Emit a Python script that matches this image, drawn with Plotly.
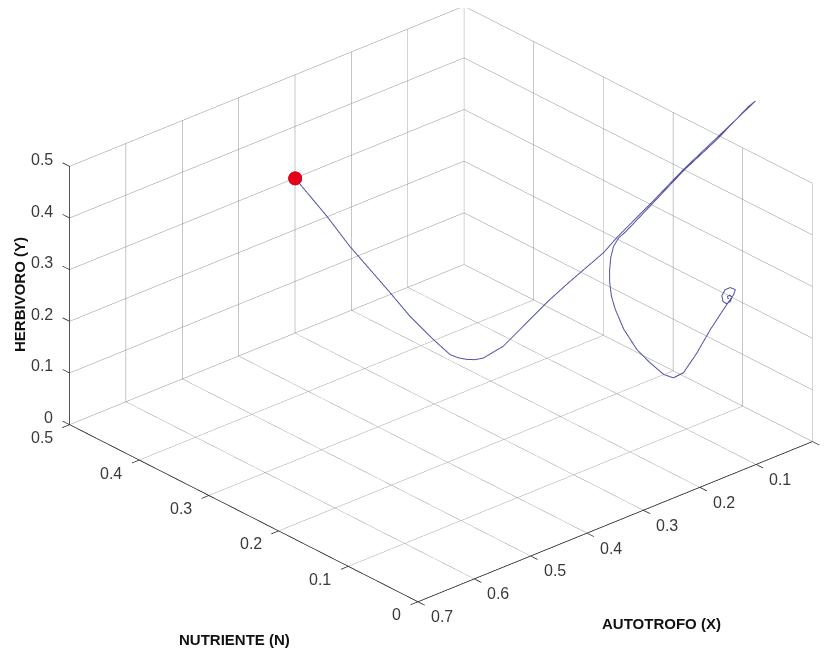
import plotly.graph_objects as go

# Trajectory values (NUTRIENTE N, AUTOTROFO X, HERBIVORO Y)
N_vals = [0.50, 0.47, 0.44, 0.40, 0.37, 0.33, 0.30, 0.285, 0.27, 0.26, 0.25, 0.23, 0.21, 0.19, 0.17, 0.15, 0.14, 0.12,
          0.10, 0.08, 0.06,
          0.05, 0.05, 0.05, 0.05, 0.05, 0.05, 0.05, 0.05, 0.05, 0.05, 0.05, 0.05, 0.05, 0.05, 0.05, 0.05, 0.05, 0.05,
          0.05, 0.05, 0.05, 0.05, 0.05, 0.05, 0.05, 0.05, 0.05, 0.05, 0.05, 0.05, 0.05, 0.05, 0.05, 0.05]
X_vals = [0.300, 0.281, 0.277, 0.255, 0.257, 0.265, 0.272, 0.276, 0.280, 0.277, 0.275, 0.264, 0.253, 0.231, 0.220, 0.185,
          0.174, 0.140, 0.105, 0.070, 0.027,
          0.052, 0.108, 0.167, 0.226, 0.270, 0.282, 0.291, 0.296, 0.298, 0.298, 0.295, 0.288, 0.273, 0.250, 0.226,
          0.202, 0.185, 0.167, 0.143, 0.119, 0.096, 0.078, 0.075, 0.084, 0.093, 0.099, 0.097, 0.091, 0.084, 0.081,
          0.085, 0.089, 0.088, 0.087]
Y_vals = [0.300, 0.239, 0.199, 0.127, 0.103, 0.089, 0.083, 0.089, 0.098, 0.103, 0.112, 0.144, 0.192, 0.247, 0.291, 0.345,
          0.376, 0.439, 0.505, 0.565, 0.630,
          0.637, 0.598, 0.564, 0.522, 0.491, 0.485, 0.473, 0.454, 0.431, 0.406, 0.378, 0.349, 0.304, 0.255, 0.218,
          0.185, 0.171, 0.173, 0.201, 0.236, 0.264, 0.285, 0.293, 0.301, 0.301, 0.292, 0.280, 0.273, 0.274, 0.281,
          0.287, 0.286, 0.281, 0.282]

start_N = [0.50]
start_X = [0.30]
start_Y = [0.30]

N_ticks = [0, 0.1, 0.2, 0.3, 0.4, 0.5]
X_ticks = [0, 0.1, 0.2, 0.3, 0.4, 0.5, 0.6, 0.7]
Y_ticks = [0, 0.1, 0.2, 0.3, 0.4, 0.5]

N_range = [0, 0.5]
X_range = [0, 0.7]
Y_range = [0, 0.5]

def lbl(v):
    return "0" if v == 0 else ("%g" % v)

FONT = "Liberation Sans, Arial, sans-serif"
tickfont = dict(family=FONT, size=16, color="#3a3a3a")

def ax(rng, ticks):
    return dict(range=rng, tickvals=ticks, autorange=False,
                showbackground=False, showgrid=True, gridcolor="#8c8c8c", gridwidth=1,
                zeroline=False, showline=False, ticks="", showticklabels=False,
                showspikes=False, title=dict(text=""))

def hidden_ax(rng):
    # same centre, range widened by 2x so the trajectory is not clipped by the box
    c = 0.5 * (rng[0] + rng[1])
    h = rng[1] - rng[0]
    return dict(range=[c - h, c + h], autorange=False, showbackground=False, showgrid=False,
                zeroline=False, showline=False, ticks="", showticklabels=False,
                showspikes=False, title=dict(text=""))

n0, n1 = N_range
x0, x1 = X_range
y0, y1 = Y_range

# front axis lines and small outward tick marks (built from the axis ranges / tick values)
tN = 0.010 * (n1 - n0) / 0.5
tX = 0.013 * (x1 - x0) / 0.7
axN, axX, axY = [], [], []
def seg(a, b):
    axN.extend([a[0], b[0], None]); axX.extend([a[1], b[1], None]); axY.extend([a[2], b[2], None])
seg((n0, x1, y0), (n1, x1, y0))          # NUTRIENTE axis
seg((n0, x0, y0), (n0, x1, y0))          # AUTOTROFO axis
seg((n1, x1, y0), (n1, x1, y1))          # HERBIVORO axis
for t in N_ticks:
    seg((t, x1, y0), (t, x1 + tX, y0))
for t in X_ticks:
    seg((n0, t, y0), (n0 - tN, t, y0))
for t in Y_ticks:
    seg((n1, x1, t), (n1 + tN, x1, t))

# tick labels placed at the tick positions in data space (MATLAB-like offsets)
tick_ann = []
for t in N_ticks:
    tick_ann.append(dict(x=t, y=x1, z=y0, text=lbl(t), xanchor="right", yanchor="middle", xshift=-15, yshift=-13))
for t in X_ticks:
    tick_ann.append(dict(x=n0, y=t, z=y0, text=lbl(t), xanchor="left", yanchor="middle", xshift=11, yshift=-15))
for t in Y_ticks:
    tick_ann.append(dict(x=n1, y=x1, z=t, text=lbl(t), xanchor="right", yanchor="middle", xshift=-15, yshift=7))
for a in tick_ann:
    a.update(showarrow=False, font=tickfont)

s_px = 0.4994 * 655
a_r, b_u = -18 / s_px, -31.5 / s_px
rv = (-0.6664, -0.7457, 0.0)
uv = (0.3388, -0.3028, 0.8910)
ctr = [a_r * rv[i] + b_u * uv[i] for i in range(3)]
d = (-0.6643, 0.5937, 0.4544)
R = 5.0
camera = dict(eye=dict(x=ctr[0] + R * d[0], y=ctr[1] + R * d[1], z=ctr[2] + R * d[2]), up=dict(x=0, y=0, z=1),
              center=dict(x=ctr[0], y=ctr[1], z=ctr[2]), projection=dict(type="orthographic"))
domain = dict(x=[0, 1], y=[0, 1])
k = 1.5964
aspect = dict(x=1.0 * k, y=1.012 * k, z=0.5546 * k)

fig = go.Figure()
fig.add_trace(go.Scatter3d(x=start_N, y=start_X, z=start_Y, mode="markers", scene="scene",
                           marker=dict(color="#e3001b", size=8, line=dict(width=0)), showlegend=False, hoverinfo="skip"))
fig.add_trace(go.Scatter3d(x=axN, y=axX, z=axY, mode="lines", scene="scene2", connectgaps=False,
                           line=dict(color="#2a2a2a", width=1.5), showlegend=False, hoverinfo="skip"))
fig.add_trace(go.Scatter3d(x=N_vals, y=X_vals, z=Y_vals, mode="lines", scene="scene2",
                           line=dict(color="#5252a6", width=2), showlegend=False, hoverinfo="skip"))
fig.add_trace(go.Scatter3d(x=start_N, y=start_X, z=start_Y, mode="markers", scene="scene2",
                           marker=dict(color="#e3001b", size=8, line=dict(width=0)), showlegend=False, hoverinfo="skip"))

fig.update_layout(
    width=830, height=655, margin=dict(l=0, r=0, t=0, b=0),
    paper_bgcolor="white", plot_bgcolor="white",
    scene=dict(domain=domain, xaxis=ax(N_range, N_ticks), yaxis=ax(X_range, X_ticks), zaxis=ax(Y_range, Y_ticks),
               aspectmode="manual", aspectratio=aspect, camera=camera, bgcolor="rgba(0,0,0,0)",
               annotations=tick_ann),
    scene2=dict(domain=domain, xaxis=hidden_ax(N_range), yaxis=hidden_ax(X_range), zaxis=hidden_ax(Y_range),
                aspectmode="manual", aspectratio=dict(x=2 * aspect["x"], y=2 * aspect["y"], z=2 * aspect["z"]),
                camera=camera, bgcolor="rgba(0,0,0,0)"),
    annotations=[
        dict(text="<b>HERBIVORO (Y)</b>", x=11 / 830, y=1 - 287 / 655, textangle=-90),
        dict(text="<b>NUTRIENTE (N)</b>", x=226 / 830, y=1 - 631 / 655),
        dict(text="<b>AUTOTROFO (X)</b>", x=653 / 830, y=1 - 615 / 655),
    ],
)
fig.update_annotations(xref="paper", yref="paper", showarrow=False, xanchor="center", yanchor="middle",
                       font=dict(family=FONT, size=15, color="#111111"))

fig.write_html("out.html")
